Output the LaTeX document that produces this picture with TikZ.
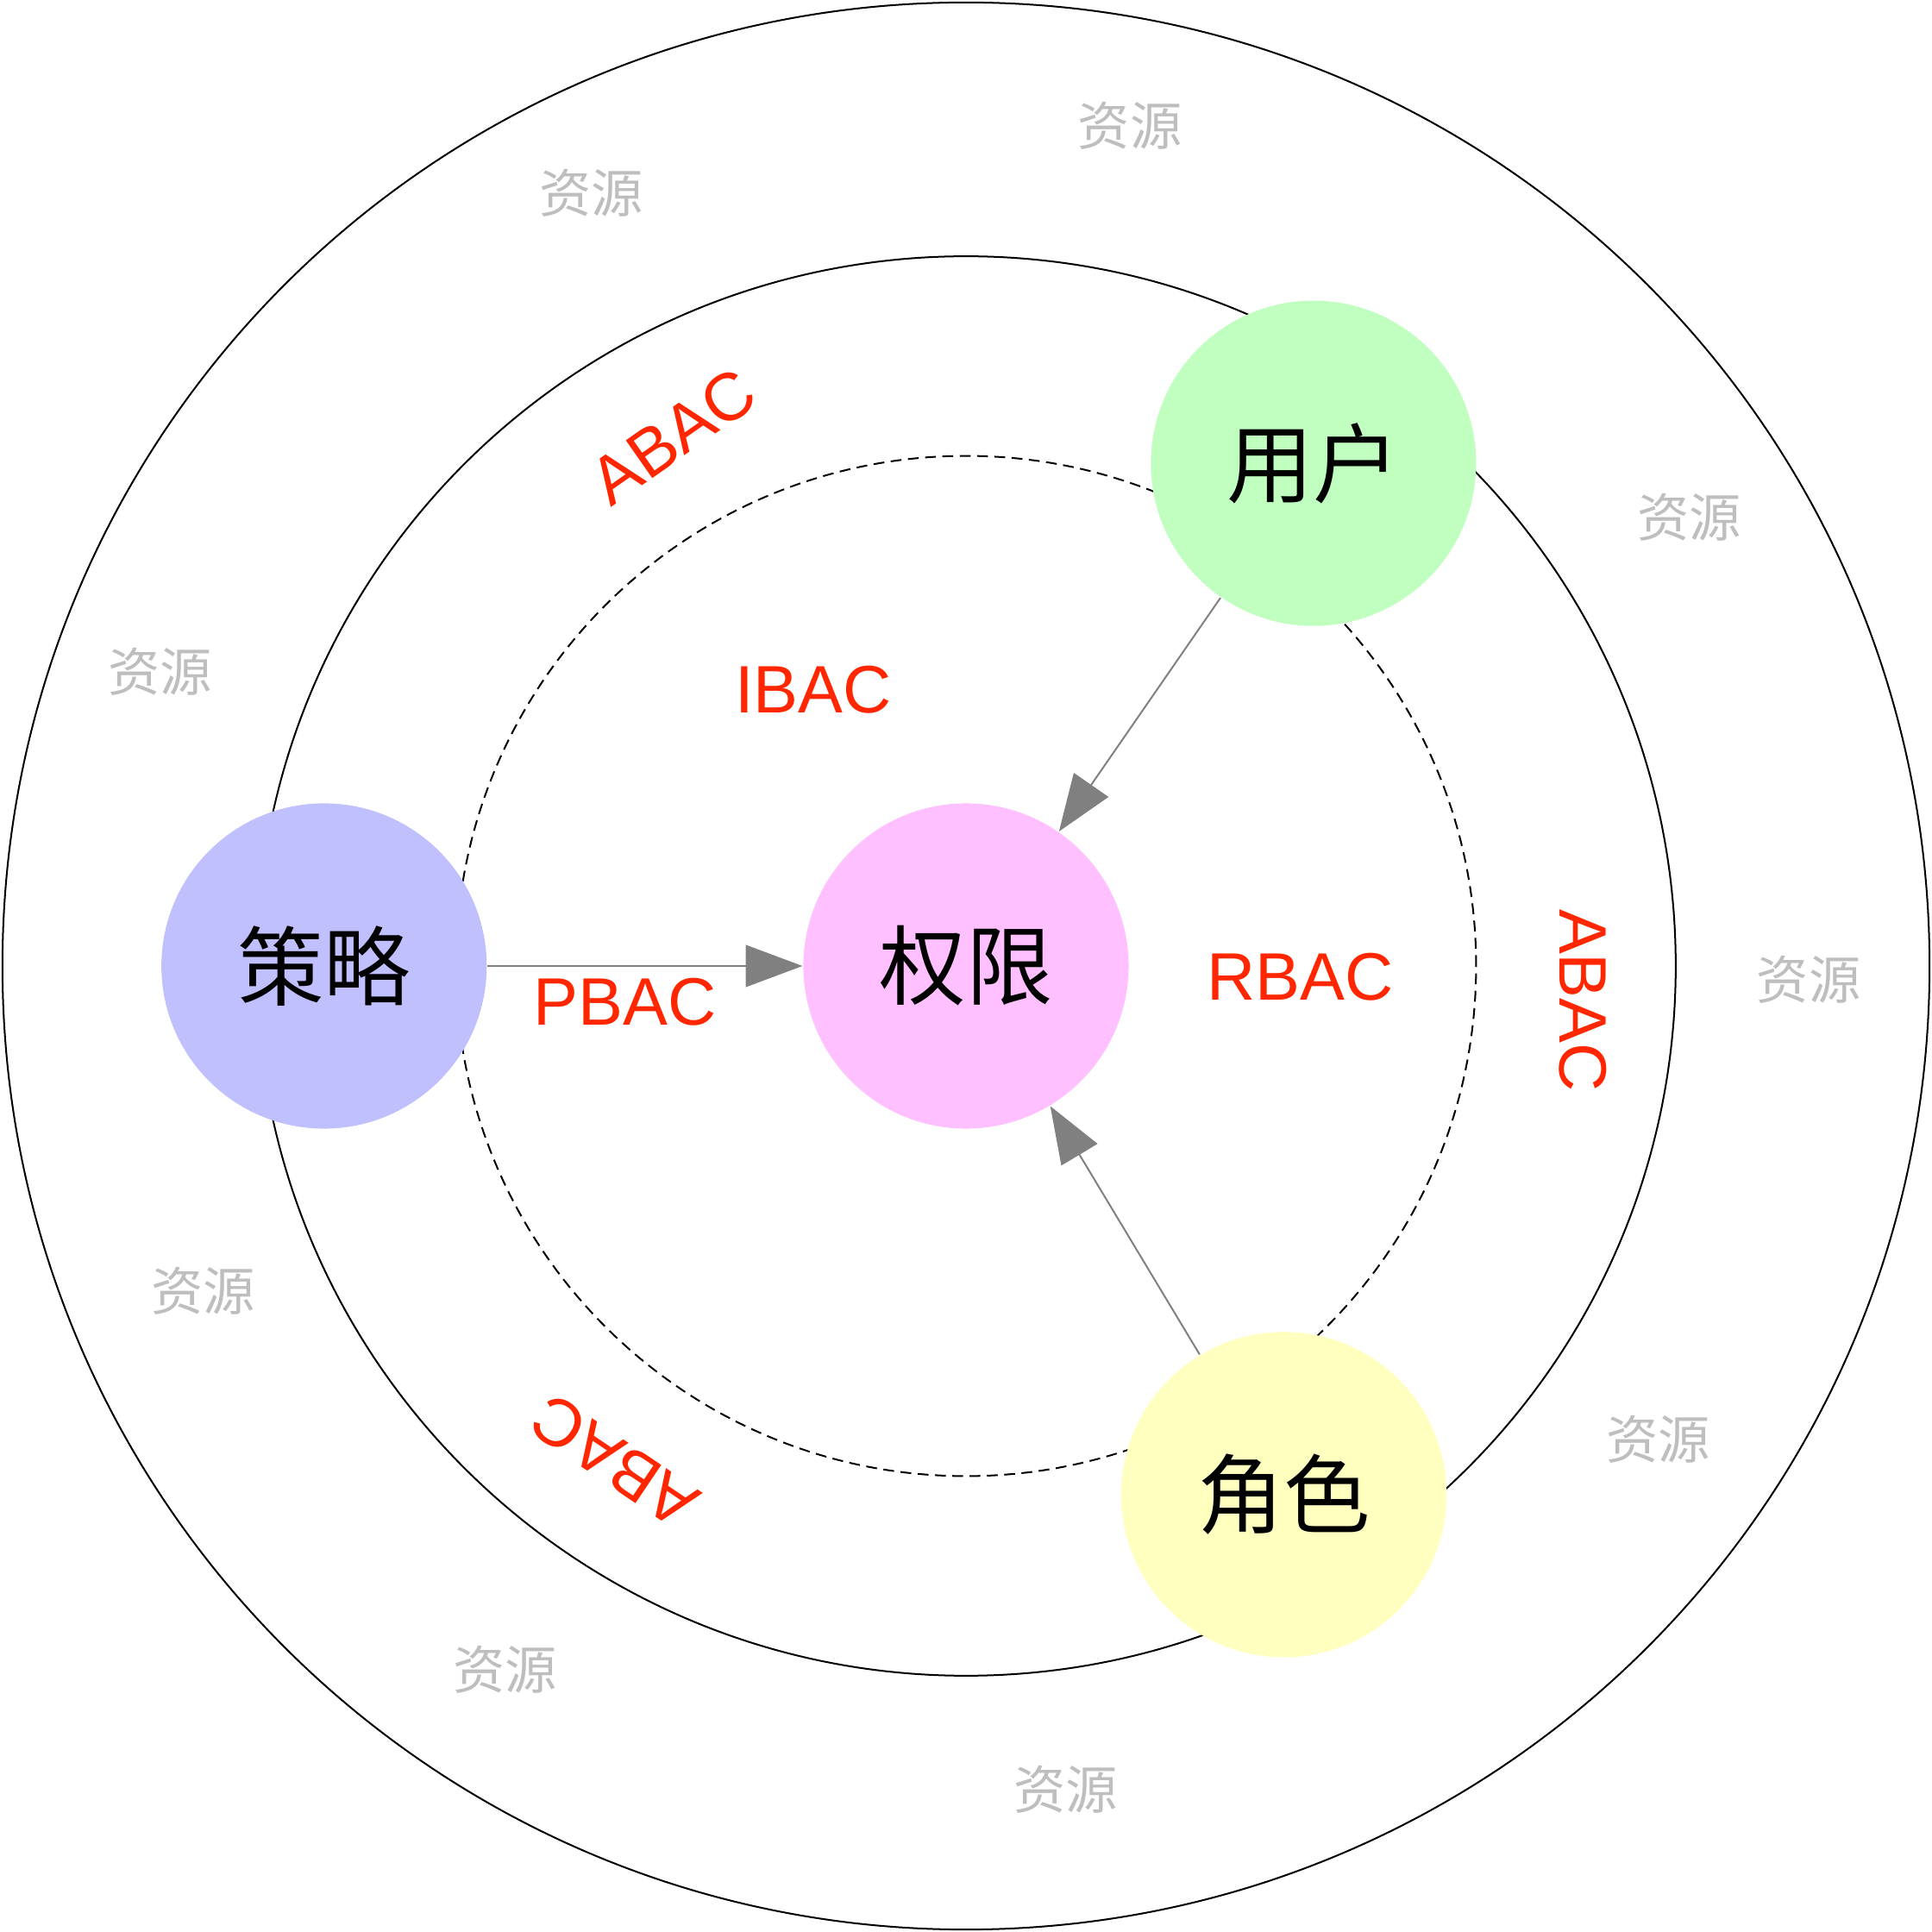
\documentclass[tikz,border=0pt]{standalone}
\usepackage{fontspec}
\setmainfont{Liberation Sans}
\newfontfamily\cjk{Noto Sans CJK SC}
\usetikzlibrary{arrows.meta}

\definecolor{permpink}{RGB}{255,192,255}
\definecolor{usergreen}{RGB}{192,255,192}
\definecolor{policyblue}{RGB}{192,192,255}
\definecolor{roleyellow}{RGB}{255,255,192}
\definecolor{modelred}{RGB}{255,38,0}
\definecolor{resgray}{RGB}{190,190,190}

\begin{document}
\begin{tikzpicture}[
    scale=1.0,
    entity/.style={circle, minimum size=2.64cm, inner sep=0pt, font=\cjk\fontsize{20}{20}\selectfont},
    model/.style={font=\fontsize{15.5}{15.5}\selectfont, text=modelred},
    res/.style={font=\cjk\fontsize{12}{12}\selectfont, text=resgray},
    link/.style={draw=gray, -{Triangle[length=0.46cm, width=0.34cm]}}
  ]

    % Define ring styles
    \def\ringOuter{(0, 0) circle (7.82cm)}
    \def\ringMid{(0, 0) circle (5.76cm)}
    \def\ringIn{(0, 0) circle (4.14cm)}

    \useasboundingbox (-7.84, -7.84) rectangle (7.84, 7.84);

    % Draw rings
    \draw \ringOuter;
    \draw \ringMid;
    \draw[dash pattern=on 2.5pt off 1.5pt] \ringIn;

    % Entities
    \node[entity, fill=permpink] (perm) at (0, 0) {权限};
    \node[entity, fill=usergreen] (user) at (2.82, 4.08) {用户};
    \node[entity, fill=policyblue] (policy) at (-5.21, 0) {策略};
    \node[entity, fill=roleyellow] (role) at (2.58, -4.29) {角色};

    % Links to permission
    \draw[link] (policy) -- (perm);
    \draw[link] (user) -- (perm);
    \draw[link] (role) -- (perm);

    % Access control models
    \node[model] (ibac) at (-1.24, 2.24) {IBAC};
    \node[model] (pbac) at (-2.77, -0.29) {PBAC};
    \node[model] (rbac) at (2.71, -0.09) {RBAC};
    \node[model, rotate=35] (abacA) at (-2.38, 4.3) {ABAC};
    \node[model, rotate=-90] (abacB) at (5.01, -0.28) {ABAC};
    \node[model, rotate=146] (abacC) at (-2.85, -4.02) {ABAC};

    % Resources (outer ring)
    \node[res] (resA) at (1.33, 6.82) {资源};
    \node[res] (resB) at (-3.04, 6.27) {资源};
    \node[res] (resC) at (5.87, 3.64) {资源};
    \node[res] (resD) at (-6.54, 2.39) {资源};
    \node[res] (resE) at (6.84, -0.11) {资源};
    \node[res] (resF) at (-6.19, -2.64) {资源};
    \node[res] (resG) at (5.62, -3.84) {资源};
    \node[res] (resH) at (-3.74, -5.71) {资源};
    \node[res] (resI) at (0.81, -6.68) {资源};

  \end{tikzpicture}
\end{document}
